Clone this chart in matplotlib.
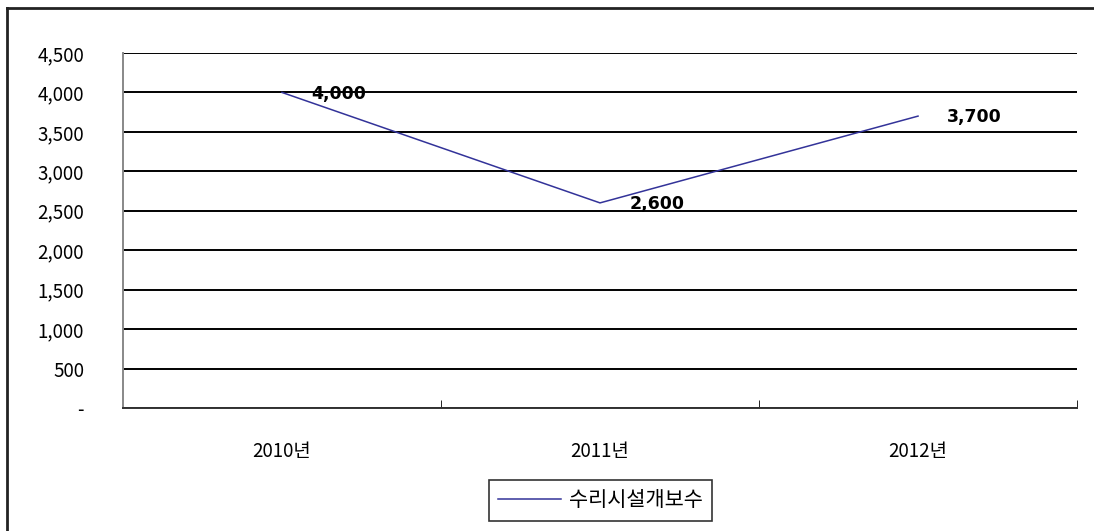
import matplotlib.pyplot as plt
from matplotlib.lines import Line2D

plt.rcParams['font.family'] = ['Noto Sans CJK KR', 'DejaVu Sans']

# yearly figures for the repair work
years = ['2010년', '2011년', '2012년']
values = [4000, 2600, 3700]
series_name = '수리시설개보수'
y_ticks = [0, 500, 1000, 1500, 2000, 2500, 3000, 3500, 4000, 4500]

fig = plt.figure(figsize=(10.94, 5.31), dpi=100)
ax = fig.add_axes([0.1124, 0.2316, 0.8721, 0.6686])

x = list(range(len(years)))
line, = ax.plot(x, values, color='#333399', lw=1.1, label=series_name)

for xi, v in zip(x, values):
    ax.annotate(f'{v:,}', (xi, v), xytext=(21, -1), textcoords='offset points',
                ha='left', va='center', fontsize=12.5, fontweight='bold',
                family=['DejaVu Sans'])

ax.set_xlim(-0.5, len(years) - 0.5)
ax.set_ylim(0, 4500)
ax.set_yticks(y_ticks)
ax.set_yticklabels(['-' if t == 0 else f'{t:,}' for t in y_ticks])
ax.yaxis.grid(True, color='black', lw=1.4)
ax.set_axisbelow(True)
ax.tick_params(axis='y', length=0, pad=28, labelsize=13.5)

# category labels centred, tick marks on the boundaries
ax.set_xticks(x)
ax.set_xticklabels(years, fontsize=13.5)
ax.set_xticks([0.5, 1.5, 2.5], minor=True)
ax.tick_params(axis='x', which='major', length=0, pad=24)
ax.tick_params(axis='x', which='minor', direction='in', length=6, color='black')

for side in ['top', 'right']:
    ax.spines[side].set_visible(False)
ax.spines['left'].set_color('#888888')
ax.spines['left'].set_linewidth(1.4)
ax.spines['bottom'].set_color('#333333')
ax.spines['bottom'].set_linewidth(1.4)

leg = fig.legend(handles=[line], loc='center', bbox_to_anchor=(0.549, 0.058),
                 frameon=True, fancybox=False, edgecolor='black', fontsize=15,
                 handlelength=3.0, handletextpad=0.4, borderpad=0.45,
                 borderaxespad=0)
leg.get_frame().set_linewidth(1.2)

# outer chart frame (top and left edges)
fig.add_artist(Line2D([0.006, 1.0], [0.985, 0.985], color='#222222', lw=2))
fig.add_artist(Line2D([0.0068, 0.0068], [0.0, 0.985], color='#222222', lw=2))

fig.savefig('out.png', dpi=100)
